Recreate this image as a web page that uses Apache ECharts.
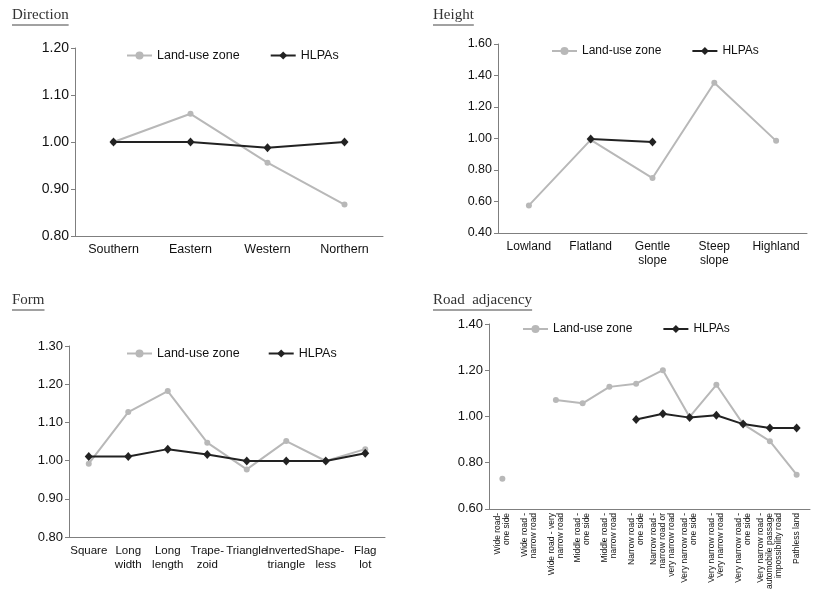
<!DOCTYPE html>
<html><head><meta charset="utf-8">
<script src="https://cdn.jsdelivr.net/npm/echarts@6/dist/echarts.min.js"></script>
<style>html,body{margin:0;padding:0;background:#fff}#c{width:827px;height:592px}</style>
</head><body><div id="c"></div>
<script>
const titles = ['Direction','Height','Form','Road  adjacency'];
const seriesNames = ['Land-use zone','HLPAs'];

const dirCats = ['Southern','Eastern','Western','Northern'];
const dirLand = [1.00,1.06,0.956,0.867];
const dirHLPA = [1.00,1.00,0.988,1.00];
const dirTicks = [0.8,1.2,0.1];

const hgtCats = ['Lowland','Flatland','Gentle\nslope','Steep\nslope','Highland'];
const hgtLand = [0.575,0.991,0.749,1.354,0.985];
const hgtHLPA = [null,0.997,0.977,null,null];
const hgtTicks = [0.4,1.6,0.2];

const frmCats = ['Square','Long\nwidth','Long\nlength','Trape-\nzoid','Triangle','Inverted\ntriangle','Shape-\nless','Flag\nlot'];
const frmLand = [0.992,1.127,1.182,1.047,0.977,1.051,0.999,1.03];
const frmHLPA = [1.011,1.011,1.03,1.016,0.999,0.999,0.999,1.019];
const frmTicks = [0.8,1.3,0.1];

const roadCats = ['Wide road-\none side','Wide road -\nnarrow road','Wide road - very\nnarrow road','Middle road -\none side','Middle road -\nnarrow road','Narrow road -\none side','Narrow road -\nnarrow road or\nvery narrow road','Very narrow road -\none side','Very narrow road -\nVery narrow road','Very narrow road -\none side','Very narrow road -\nautomobile passage\nimpossibility road','Pathless land'];
const roadLand = [0.73,null,1.071,1.057,1.128,1.142,1.2,0.998,1.137,0.967,0.893,0.748];
const roadHLPA = [null,null,null,null,null,0.987,1.012,0.995,1.005,0.967,0.95,0.95];
const roadTicks = [0.6,1.4,0.2];

const chart = echarts.init(document.getElementById('c'));
const FONT = '"Liberation Sans", Arial, sans-serif';
const grids = [
  {left:75, right:444, top:48, bottom:356},
  {left:498, right:20, top:44, bottom:359},
  {left:69, right:442, top:346, bottom:55},
  {left:489, right:17, top:324, bottom:75}
];
const panels = [
  {cats:dirCats, land:dirLand, hl:dirHLPA, t:dirTicks, yfs:14, xfs:12.5, rot:0},
  {cats:hgtCats, land:hgtLand, hl:hgtHLPA, t:hgtTicks, yfs:12.5, xfs:12, rot:0},
  {cats:frmCats, land:frmLand, hl:frmHLPA, t:frmTicks, yfs:13, xfs:11.5, rot:0},
  {cats:roadCats, land:roadLand, hl:roadHLPA, t:roadTicks, yfs:13, xfs:8.5, rot:90}
];
const axisLine = {lineStyle:{color:'#7f7f7f', width:1}};
const axisTick = {length:4, lineStyle:{color:'#7f7f7f'}};

const xAxis = [], yAxis = [], series = [];
panels.forEach((p,i)=>{
  xAxis.push({type:'category', gridIndex:i, data:p.cats, boundaryGap:true,
    axisLine, axisTick:{...axisTick, interval:0},
    axisLabel:{interval:0, color:'#111', fontFamily:FONT, fontSize:p.xfs, rotate:p.rot, margin:p.rot?4:7,
      lineHeight:p.rot?9:14}});
  yAxis.push({type:'value', gridIndex:i, min:p.t[0], max:p.t[1], interval:p.t[2],
    axisLine:{show:true, ...axisLine}, axisTick:{show:true, ...axisTick}, splitLine:{show:false},
    axisLabel:{color:'#111', fontFamily:FONT, fontSize:p.yfs, margin:6, formatter:v=>v.toFixed(2)}});
  series.push({name:seriesNames[0], type:'line', xAxisIndex:i, yAxisIndex:i, data:p.land,
    symbol:'circle', symbolSize:6, connectNulls:false, color:'#b8b8b8',
    lineStyle:{color:'#b8b8b8', width:2}, itemStyle:{color:'#b8b8b8'}, z:2});
  series.push({name:seriesNames[1], type:'line', xAxisIndex:i, yAxisIndex:i, data:p.hl,
    symbol:'diamond', symbolSize:[8,9], connectNulls:false, color:'#222',
    lineStyle:{color:'#222', width:2}, itemStyle:{color:'#222'}, z:3});
});

const legendPos = [
  {left:121, top:44, gap:30, fs:12.5},
  {left:546, top:40, gap:30, fs:12},
  {left:121, top:342, gap:28, fs:12.5},
  {left:517, top:318, gap:30, fs:12}
];
const legend = legendPos.map(l=>({data:seriesNames, left:l.left, top:l.top, itemGap:l.gap,
  itemWidth:25, itemHeight:10, textStyle:{color:'#111', fontFamily:FONT, fontSize:l.fs}}));

const titlePos = [[12,8],[433,8],[12,293],[433,293]];
const title = titles.map((t,i)=>({text:t, left:titlePos[i][0], top:titlePos[i][1], padding:0,
  textStyle:{fontFamily:'"Liberation Serif","DejaVu Serif",serif', fontWeight:'normal', fontSize:15, color:'#333'}}));

chart.setOption({animation:false, title, legend, grid:grids, xAxis, yAxis, series});

// underline titles
const g = [];
const comps = chart.getModel().getComponent;
titles.forEach((t,i)=>{
  const view = chart._componentsViews.find(v=>v.__model && v.__model.mainType==='title' && v.__model.componentIndex===i);
  let w = 60;
  if (view) { const r = view.group.getBoundingRect(); w = r.width; }
  g.push({type:'line', shape:{x1:titlePos[i][0], y1:titlePos[i][1]+17, x2:titlePos[i][0]+w, y2:titlePos[i][1]+17},
    style:{stroke:'#444', lineWidth:1}});
});
chart.setOption({graphic:g});
</script></body></html>
